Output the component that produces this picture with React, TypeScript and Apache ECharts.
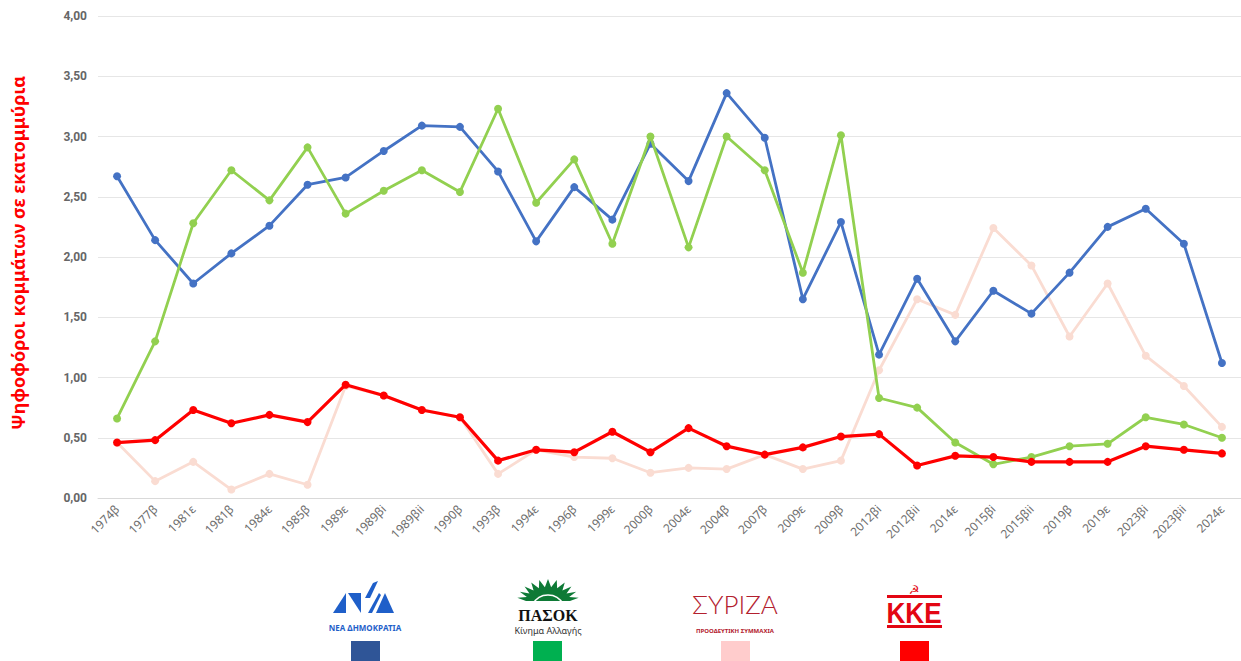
import React, { useEffect, useRef } from "react";
import * as echarts from "echarts";

const categories = ["1974β","1977β","1981ε","1981β","1984ε","1985β","1989ε","1989βi","1989βii","1990β","1993β","1994ε","1996β","1999ε","2000β","2004ε","2004β","2007β","2009ε","2009β","2012βi","2012βii","2014ε","2015βi","2015βii","2019β","2019ε","2023βi","2023βii","2024ε"];
const nd = [2.67,2.14,1.78,2.03,2.26,2.60,2.66,2.88,3.09,3.08,2.71,2.13,2.58,2.31,2.94,2.63,3.36,2.99,1.65,2.29,1.19,1.82,1.30,1.72,1.53,1.87,2.25,2.40,2.11,1.12];
const pasok = [0.66,1.30,2.28,2.72,2.47,2.91,2.36,2.55,2.72,2.54,3.23,2.45,2.81,2.11,3.00,2.08,3.00,2.72,1.87,3.01,0.83,0.75,0.46,0.28,0.34,0.43,0.45,0.67,0.61,0.50];
const kke = [0.46,0.48,0.73,0.62,0.69,0.63,0.94,0.85,0.73,0.67,0.31,0.40,0.38,0.55,0.38,0.58,0.43,0.36,0.42,0.51,0.53,0.27,0.35,0.34,0.30,0.30,0.30,0.43,0.40,0.37];
const syriza = [0.46,0.14,0.30,0.07,0.20,0.11,0.93,0.85,0.73,0.67,0.20,0.40,0.34,0.33,0.21,0.25,0.24,0.36,0.24,0.31,1.06,1.65,1.52,2.24,1.93,1.34,1.78,1.18,0.93,0.59];
const yTicks = { min: 0, max: 4, interval: 0.5 };
const yTitle = "Ψηφοφόροι κομμάτων σε εκατομμύρια";

function sunPolygon(cx: number, cy: number, rxIn: number, ryIn: number, rxOut: number, ryOut: number, n: number) {
  const pts: number[][] = [];
  for (let i = 0; i <= n * 2; i++) {
    const a = Math.PI * (i / (n * 2));
    const out = i % 2 === 1;
    const rx = out ? rxOut : rxIn;
    const ry = out ? ryOut : ryIn;
    pts.push([cx + rx * Math.cos(a), cy - ry * Math.sin(a)]);
  }
  return pts;
}

export default function App() {
  const ref = useRef<HTMLDivElement>(null);
  useEffect(() => {
    if (!ref.current) return;
    const chart = echarts.init(ref.current, null, { renderer: "svg" });
    const mk = (name: string, data: number[], color: string, width: number, z: number) => ({
      name,
      type: "line",
      data,
      z,
      symbol: "circle",
      symbolSize: 8,
      lineStyle: { color, width },
      itemStyle: { color },
    });
    const ndBlue = "#1F5FC9";
    const pasokGreen = "#0E7A36";
    const syrizaRed = "#B3202E";
    const kkeRed = "#E30613";
    chart.setOption({
      animation: false,
      backgroundColor: "#ffffff",
      grid: { left: 98, top: 16, height: 482, width: 1147, containLabel: false },
      xAxis: {
        type: "category",
        data: categories,
        boundaryGap: true,
        axisLine: { lineStyle: { color: "#D9D9D9", width: 1 } },
        axisTick: { show: false },
        axisLabel: { rotate: 45, fontSize: 12, color: "#6E6E6E", fontFamily: "Noto Sans", margin: 9, interval: 0 },
      },
      yAxis: {
        type: "value",
        min: yTicks.min,
        max: yTicks.max,
        interval: yTicks.interval,
        axisLabel: {
          fontSize: 12, fontWeight: "bold", color: "#666666", fontFamily: "Roboto", margin: 11,
          formatter: (v: number) => v.toFixed(2).replace(".", ","),
        },
        axisLine: { show: false },
        axisTick: { show: false },
        splitLine: { lineStyle: { color: "#E6E6E6", width: 1 } },
      },
      series: [
        mk("ΣΥΡΙΖΑ", syriza, "#FADCD2", 2.8, 1),
        mk("ΝΔ", nd, "#4472C4", 2.8, 2),
        mk("ΠΑΣΟΚ", pasok, "#92D050", 2.8, 3),
        mk("ΚΚΕ", kke, "#FF0000", 3.2, 4),
      ],
      graphic: [
        { type: "text", x: 18, y: 253, rotation: Math.PI / 2, style: { text: yTitle, fill: "#FF0000", font: "bold 18px 'Noto Sans'", textAlign: "center", textVerticalAlign: "middle" } },
        // ND logo
        { type: "polygon", shape: { points: [[333, 613], [346, 613], [346, 593]] }, style: { fill: ndBlue } },
        { type: "polygon", shape: { points: [[348, 593], [361, 593], [361, 613]] }, style: { fill: ndBlue } },
        { type: "polygon", shape: { points: [[365, 598], [373, 583], [378, 581], [370, 598]] }, style: { fill: ndBlue } },
        { type: "polygon", shape: { points: [[368, 613], [372, 613], [381, 595], [379, 593]] }, style: { fill: ndBlue } },
        { type: "polygon", shape: { points: [[376, 613], [394, 613], [385, 593]] }, style: { fill: ndBlue } },
        { type: "text", x: 365, y: 627, style: { text: "ΝΕΑ ΔΗΜΟΚΡΑΤΙΑ", fill: ndBlue, font: "bold 8px 'Noto Sans'", textAlign: "center", textVerticalAlign: "middle" } },
        // PASOK logo
        { type: "polygon", shape: { points: sunPolygon(548, 601, 22, 14, 31, 22, 11) }, style: { fill: pasokGreen } },
        { type: "arc", shape: { cx: 548, cy: 612, r: 17, startAngle: Math.PI * 1.15, endAngle: Math.PI * 1.85 }, style: { stroke: "#ffffff", lineWidth: 1.5, fill: "none" } },
        { type: "text", x: 548, y: 615, style: { text: "ΠΑΣΟΚ", fill: "#111111", font: "bold 16px 'Liberation Serif'", textAlign: "center", textVerticalAlign: "middle" } },
        { type: "text", x: 548, y: 630, style: { text: "Κίνημα Αλλαγής", fill: "#333333", font: "9px 'Noto Sans'", textAlign: "center", textVerticalAlign: "middle" } },
        // SYRIZA logo
        { type: "text", x: 735, y: 604, style: { text: "ΣΥΡΙΖΑ", fill: syrizaRed, font: "300 26px Lato", textAlign: "center", textVerticalAlign: "middle" } },
        { type: "text", x: 735, y: 631, style: { text: "ΠΡΟΟΔΕΥΤΙΚΗ ΣΥΜΜΑΧΙΑ", fill: syrizaRed, font: "bold 6px 'Noto Sans'", textAlign: "center", textVerticalAlign: "middle" } },
        // KKE logo
        { type: "text", x: 914, y: 590, style: { text: "☭", fill: kkeRed, font: "12px 'DejaVu Sans'", textAlign: "center", textVerticalAlign: "middle" } },
        { type: "rect", shape: { x: 887, y: 595, width: 55, height: 3 }, style: { fill: kkeRed } },
        { type: "text", x: 914, y: 613, scaleX: 0.9, originX: 0, originY: 0, style: { text: "ΚΚΕ", fill: kkeRed, font: "bold 29px 'Liberation Sans'", textAlign: "center", textVerticalAlign: "middle" } },
        { type: "rect", shape: { x: 887, y: 625, width: 55, height: 3 }, style: { fill: kkeRed } },
        // legend squares
        { type: "rect", shape: { x: 351, y: 641, width: 29, height: 22 }, style: { fill: "#2F5597" } },
        { type: "rect", shape: { x: 533, y: 641, width: 29, height: 22 }, style: { fill: "#00B050" } },
        { type: "rect", shape: { x: 721, y: 641, width: 29, height: 22 }, style: { fill: "#FFCCCC" } },
        { type: "rect", shape: { x: 900, y: 641, width: 29, height: 22 }, style: { fill: "#FF0000" } },
      ],
    });
    return () => chart.dispose();
  }, []);
  return <div ref={ref} style={{ position: "absolute", left: 0, top: 0, width: 1241, height: 661 }} />;
}
